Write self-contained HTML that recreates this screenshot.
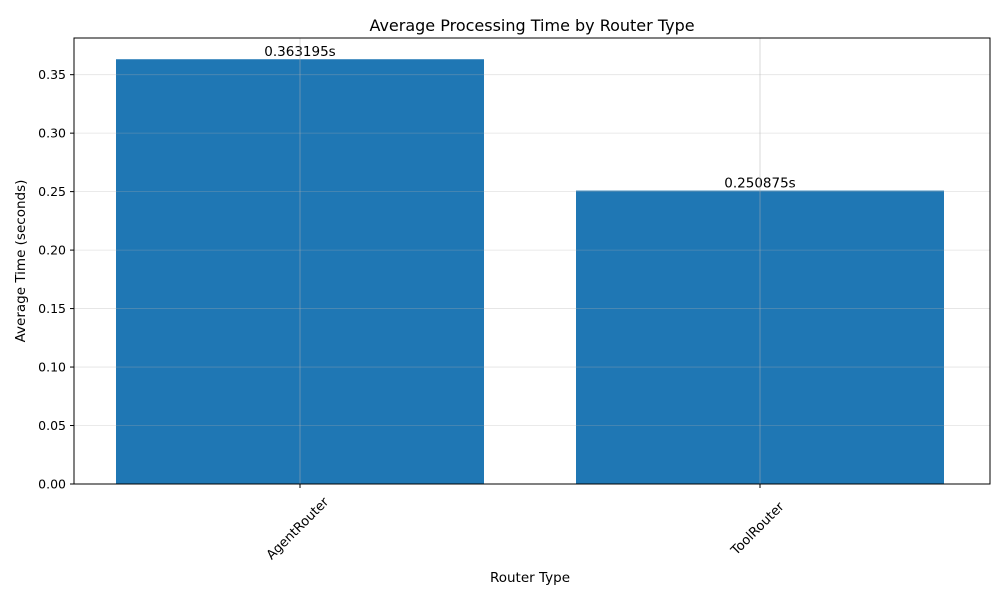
<!DOCTYPE html>
<html><head><meta charset="utf-8"><style>
body{margin:0;background:#fff;}
svg{display:block;font-family:"DejaVu Sans","Liberation Sans",sans-serif;}
</style></head><body>
<svg id="chart" width="1000" height="600" viewBox="0 0 1000 600">
<rect width="1000" height="600" fill="#fff"/>
<text x="532" y="31" font-size="16" text-anchor="middle">Average Processing Time by Router Type</text>
<text x="530" y="582" font-size="13.5" text-anchor="middle">Router Type</text>
<text transform="translate(25,261) rotate(-90)" font-size="13.5" text-anchor="middle">Average Time (seconds)</text>
<g id="bars"></g><g id="grid"></g><g id="ticks"></g>
<rect x="74" y="38" width="916" height="446" fill="none" stroke="#000" stroke-width="1"/>
</svg>
<script>
const categories = ["AgentRouter", "ToolRouter"];
const values = [0.363195, 0.250875];
const valueLabels = ["0.363195s", "0.250875s"];
const yTicks = [0, 0.05, 0.10, 0.15, 0.20, 0.25, 0.30, 0.35];
const yTickLabels = ["0.00","0.05","0.10","0.15","0.20","0.25","0.30","0.35"];

const L=74,R=990,T=38,B=484;
const yMax=Math.max(...values)*1.05;
const xMin=-0.4913,xMax=categories.length-1+0.5;
const y=v=>B-(v/yMax)*(B-T);
const x=i=>L+(i-xMin)/(xMax-xMin)*(R-L);
const unit=(R-L)/(xMax-xMin);
const NS="http://www.w3.org/2000/svg";
function mk(tag,attrs,parent,text){const e=document.createElementNS(NS,tag);for(const k in attrs)e.setAttribute(k,attrs[k]);if(text!==undefined)e.textContent=text;parent.appendChild(e);return e;}
const bars=document.getElementById('bars'),grid=document.getElementById('grid'),ticks=document.getElementById('ticks');
categories.forEach((c,i)=>{
  const w=0.8*unit;
  const b=mk('rect',{x:x(i)-w/2,y:y(values[i]),width:w,height:B-y(values[i]),fill:'#1f77b4'},bars);
  
  
  const t=mk('text',{x:x(i),y:y(values[i])-3,'font-size':13.5,'text-anchor':'middle'},bars,valueLabels[i]);
  
  
  const g=mk('line',{x1:x(i),x2:x(i),y1:T,y2:B,stroke:'#b0b0b0','stroke-opacity':0.6,'stroke-width':0.8},grid);
  
  
  const tk=mk('line',{x1:x(i),x2:x(i),y1:B,y2:B+4,stroke:'#000'},ticks);
  
  
  const lb=mk('text',{transform:`translate(${x(i)-2},${B+45}) rotate(-45)`,'font-size':13,'text-anchor':'middle','dominant-baseline':'central'},ticks,c);
  
  
});
yTicks.forEach((v,i)=>{
  const g=mk('line',{x1:L,x2:R,y1:y(v),y2:y(v),stroke:'#b0b0b0','stroke-opacity':0.35,'stroke-width':0.8},grid);
  
  
  const tk=mk('line',{x1:L-4,x2:L,y1:y(v),y2:y(v),stroke:'#000'},ticks);
  
  
  const lb=mk('text',{x:L-8,y:y(v)+4.5,'font-size':12.5,'text-anchor':'end'},ticks,yTickLabels[i]);
  
  
});
</script>
</body></html>
